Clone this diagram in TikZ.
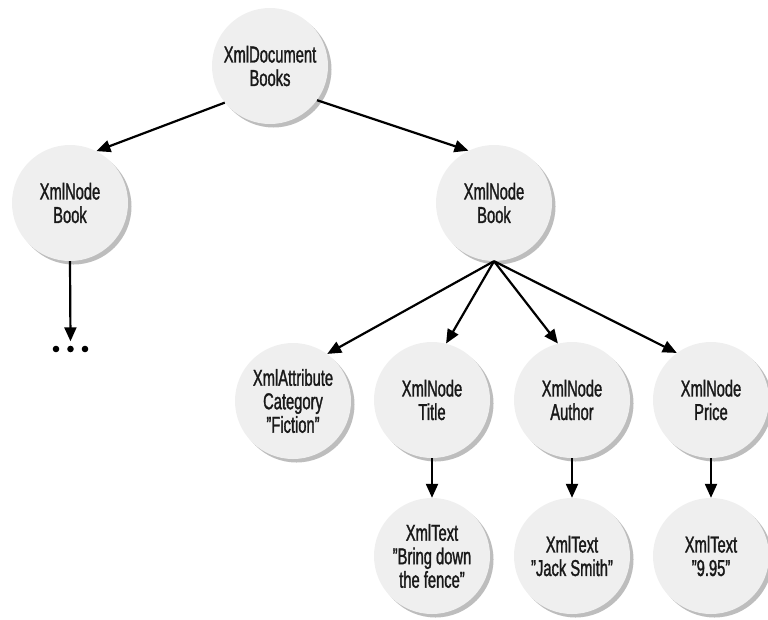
\documentclass[tikz,border=0pt]{standalone}
\usepackage{fontspec}
\setmainfont[FakeStretch=0.64,FakeBold=1.3]{Liberation Sans}
\usetikzlibrary{arrows.meta,shadows}
\definecolor{nodefill}{HTML}{EFEFEF}
\definecolor{shadowgray}{HTML}{BDBDBD}
\begin{document}
\begin{tikzpicture}[x=1pt,y=-1pt,
  xnode/.style={circle, minimum size=116pt, inner sep=0pt, fill=nodefill,
    drop shadow={shadow xshift=3.5pt, shadow yshift=-3.5pt, fill=shadowgray, opacity=1},
    align=center, font=\fontsize{23}{23.5}\selectfont, text=black!90},
  conn/.style={line width=2.2pt, -{Triangle[length=14pt,width=12pt]}},
  dot/.style={fill=black}
]
\useasboundingbox (0,0) rectangle (768,619);
\node[xnode] (root) at (270,66) {XmlDocument\\Books};
\node[xnode] (lbook) at (70,203) {XmlNode\\Book};
\node[xnode] (rbook) at (494,203) {XmlNode\\Book};
\node[xnode] (attr) at (293,401) {XmlAttribute\\Category\\\char`\"Fiction\char`\"};
\node[xnode] (title) at (432,400) {XmlNode\\Title};
\node[xnode] (author) at (572,400) {XmlNode\\Author};
\node[xnode] (price) at (711,400) {XmlNode\\Price};
\node[xnode] (ttext) at (432,556) {XmlText\\\char`\"Bring down\\the fence\char`\"};
\node[xnode] (atext) at (572,556) {XmlText\\\char`\"Jack Smith\char`\"};
\node[xnode] (ptext) at (711,556) {XmlText\\\char`\"9.95\char`\"};
\node[inner sep=0pt, minimum width=36pt, minimum height=15pt] (dots) at (70.5,349) {};
\fill[dot] (56,349) circle (3.3pt) (70.5,349) circle (3.3pt) (85,349) circle (3.3pt);

\draw[conn] (root.219) -- (lbook.63);
\draw[conn] (root.324) -- (rbook.116);
\draw[conn] (lbook.south) -- (dots.north);
\draw[conn] (rbook.south) -- (attr.54);
\draw[conn] (rbook.south) -- (title.76);
\draw[conn] (rbook.south) -- (author.104);
\draw[conn] (rbook.south) -- (price.126);
\draw[conn] (title.south) -- (ttext.north);
\draw[conn] (author.south) -- (atext.north);
\draw[conn] (price.south) -- (ptext.north);
\end{tikzpicture}
\end{document}
